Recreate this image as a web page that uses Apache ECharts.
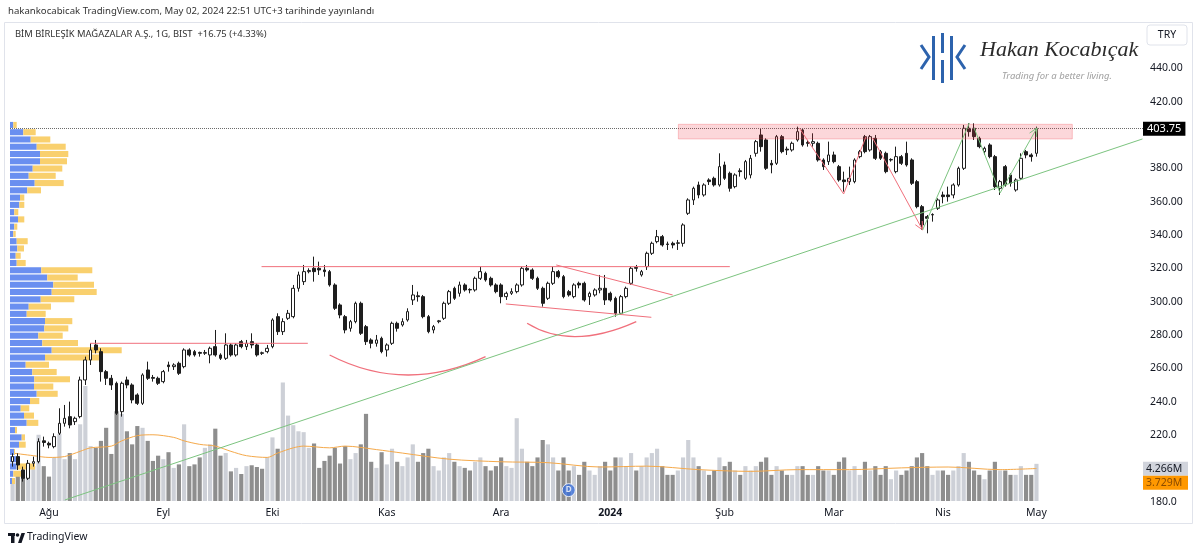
<!DOCTYPE html>
<html><head><meta charset="utf-8">
<script src="https://cdn.jsdelivr.net/npm/echarts@6/dist/echarts.min.js"></script>
<style>html,body{margin:0;padding:0;background:#fff}#c{width:1200px;height:553px}</style>
</head><body><div id="c"></div><script>
// ---------------- DATA ----------------
const START = [2023, 6, 21]; // first bar: 2023-07-21
const HOLIDAYS = ['2023-08-30','2024-01-01','2024-04-10','2024-04-11','2024-04-12','2024-04-23','2024-05-01'];
const N_SLOTS = 218; // 198 bars + empty right margin
const MONTHS_TR = ['Oca','Şub','Mar','Nis','May','Haz','Tem','Ağu','Eyl','Eki','Kas','Ara'];

const opens = [204,207,199,194,203,204,216.5,215,213,221,227,231,228,231,253,265,274,270,258,254,
251,234,253,250,244,239,259,254.5,254,252,262,261,263,261,271,270,269.5,269,268,273,
268,266,274,268,276,273,276,274,269.3,270,273,291,282,290,291,308,312,318,320,320,
319,318,310,298,291,284,288,299,285,277,275,278,271,275,287,286,289,301,303.5,303,
291,283,288,290,299,308,305,310,307.3,307,314,317,314,310,310,303,305,306,310,320,
319,314,308,302,311,318,315,306,303,311,311,303,304,307,308,305,302,293,303,311,
320.5,316,321,329,336,339,334.6,335,335,335,353,361,370,364,373,374,370,382,377,369,
378.5,374,376,389,400,397,383,383,399,391.5,391,397,403,395.5,395,395,385,384,388,381,
373,372,372,387,399,391,398,390,389,385,378,387,389,385,372,357,351,352,356,364,
364,364,370,380,404,404,398,390,394,387,368,381,376,367,374,390,388,389];
const closes = [207,202,194,203,204,216,215.5,214,219,227,230,226,230,253,265,271,271,258,254,250,
233,251,250,241,239,256,254,254,251,258,261,262,257,271,268,268,269,269.5,272,268,
266,274,268,274,273,275,274,268,269,272,289,282,288,293,308,316,318,318.7,318,319,
318,310,296,292,283,288,299,281,276,275,277,270,274,287,284,288,294,304,303,291,
282,285,288.5,299,306,302,310,307,307,314,318,313,310,306,303,305,306,310,320,319,
314,308,299,311,318,315,303,304,310,310,301,305,307,308,301,301,293,303,308,320,
320,318,329,335,339,334,334.3,334,335.3,346,361,368,364,370,372,370,381,374,368,376,
378,384,386,396,393,380,382,399,390,391,395,402,394,395,396,385,381,388,384,373,
372,374,385,390,390,399,386,386,378,385.3,387,383,382,371,357,346,350,352.3,361,363,
363,370,380,404,402,399,393,392,387,369,372,370,371,373,386,388,387,403.75];
const lows = [201,199,192,193,201,203,213,212,212,220,225,224,226,230,250,262,269,252,250,247,
232,231,248,239,238,238,253,252,250,251,258,259,256,260,267,267,267,268,263,267,
265,265,267,267,272,271,272,267,268,269,272,280,280,289,290,306,310,317,312,316,
315,309,295,290,281,282,287,280,274,272,273,269,267,274,282,285,288,298,300,290,
281,281,287,289,298,301,303,306,305,306,313,312,309,305,299,301,304,305,309,318,
313,307,297,301,310,314,302,303,302,308,300,298,303,305,298,300,291,292,302,310,
318,315,319,328,335,333,331,332,331,333,352,358,362,363,370,369,369,373,366,368,
375,373,374,387,390,379,377,382,389,388,390,396,393,393,393,384,379,382,383,372,
366,370,371,386,389,390,385,385,377,384,377,382,381,370,356,343,341,348,355,359,
360,362,369,379,399,397,392,388,386,367,364,369,369,366,373,386,384,387];
const highs = [209,209,201,205,207,218,219,216,221,236,238,240,231,255,267,275,277,272,259,256,
252,252,255,251,245,257,264,256,255,259,264,263,264,272,272,271,270,271,273,283,
269,281,275,275,277,277,281,275,270,274,290,293,290,295,310,318,322,320,327,324,
322,319,311,299,292,289,300,300,286,278,280,279,275,288,288,290,296,310,306,304,
292,286,289,300,307,309,312,311,308,315,321,318,315,311,311,306,308,311,321,322,
320,315,309,312,321,319,316,307,311,312,312,306,308,316,316,306,303,304,309,321,
322,319,330,336,343,340,336,336,337,347,362,369,372,371,374,375,389,384,378,377,
380,385,388,397,404,398,385,400,400,393,396,405,404,397,401,396,386,396,390,382,
378,381,386,391,400,400,400,391,390,386,393,388,396,386,373,358,352,353,362,366,
369,371,381,406,407,407,399,393,395,388,373,382,377,374,389,391,389,405];
// volume in millions
const volumes = [2.0,3.1,2.7,3.8,4.0,7.6,4.0,2.8,5.0,7.7,4.8,5.5,4.8,8.8,13.2,6.3,6.1,6.9,8.4,5.4,
10.3,10.0,8.0,6.5,8.6,8.4,6.9,4.6,5.2,4.8,5.6,3.8,4.2,8.8,4.0,4.2,5.0,6.1,6.5,8.3,
5.2,5.5,3.4,3.8,3.1,4.0,4.1,3.9,3.7,5.0,7.3,6.0,13.6,9.8,8.7,8.0,7.9,6.1,6.6,3.8,
4.6,5.2,6.1,4.3,6.3,4.8,5.5,6.5,10.0,4.5,3.8,5.6,4.2,6.0,4.5,4.0,5.0,6.5,4.5,5.5,
6.0,4.0,3.5,5.0,5.5,4.5,4.0,3.8,3.5,4.5,5.0,4.0,3.5,4.0,5.0,4.0,3.8,9.5,6.0,4.5,
4.0,5.0,7.0,6.5,5.0,3.5,5.0,3.5,4.0,3.0,4.5,3.5,3.0,4.0,4.5,3.5,5.0,5.0,4.0,5.5,
3.5,4.0,5.0,5.5,6.0,4.0,3.0,3.0,3.5,5.0,7.0,5.0,4.0,3.5,3.0,3.5,5.0,4.0,4.5,3.5,
3.0,4.0,3.5,4.0,4.5,5.0,3.0,4.0,3.5,3.0,3.0,4.0,4.0,3.0,3.0,4.0,3.5,3.5,3.0,4.5,
5.0,3.5,4.0,3.0,4.5,3.5,4.0,3.0,4.0,2.5,3.5,3.0,3.5,4.0,5.0,5.5,4.0,3.0,3.5,3.5,
3.0,3.5,4.0,5.5,4.5,3.5,3.0,2.5,3.5,4.5,3.5,3.5,3.0,3.0,4.0,3.0,3.0,4.266];
// volume moving average, read at points [barIndex, millions]
const volMa = [[0,5.5],[4,5.2],[7,5.0],[10,5.1],[13,5.7],[15,6.1],[19,6.3],[21,6.9],[24,7.5],[27,7.6],
[31,7.3],[33,6.9],[36,6.5],[39,6.3],[42,5.7],[45,5.2],[49,5.0],[51,5.5],[54,6.1],[56,6.3],[61,6.1],
[64,6.3],[70,5.9],[75,5.5],[84,4.8],[94,4.5],[103,4.4],[113,3.9],[122,4.0],[132,3.6],[142,3.4],
[151,3.6],[161,3.6],[171,3.8],[180,3.9],[190,3.6],[197,3.729]];
const dividendDate = '2023-12-20';
// visible-range volume profile, rows from top (price PROFILE_TOP) downward, relative units
const PROFILE_TOP = 408.2, PROFILE_ROW = 4.36;
const profileUp = [3.3,13.3,20.7,26.7,30,30,22.7,18.7,24.7,17.3,10,9.3,4.3,8,4.3,3.3,6.7,7.3,5.7,6.7,
31.3,37.3,43.3,41.7,30.7,18.7,16.7,35,34.3,28.3,32.3,41.7,35,15.7,22.3,24.3,24,26.7,20,10.7,
14,16.7,5,11.7,9,4,9,6.7,3.3,2];
const profileDown = [3.4,12.4,19.6,29,28.3,27,29.6,27,29,13.7,4.3,5,4,6.3,3,2.4,11,6.7,5,9,
51,30.4,40.7,45,33.6,22.3,19,27.3,24,24.4,35.7,70,55,23.3,24.4,35.7,19.3,21,9.3,8.6,
10,11.6,2,3.3,6.7,1,1,18.3,8.4,3];
// drawings in [barIndex, price]
const resistanceZone = [[128.1,397.6],[203.9,406.4]];
const redLines = [[[14.9,275],[56.8,275]],[[47.9,321],[138,321]],[[104.6,322],[127,304]],[[94.9,298.6],[122.9,290.6]],
  [[151.4,404],[159.9,364.6],[164.2,399]]];
const redArcs = [[[61,268],[75.8,256],[91,267]],[[99,287],[108.5,279],[120,288]]];
const redArrows = [[[165.5,398],[175.1,343]]];
const greenLines = [[[10.06,181],[217.4,397.6]],[[175.1,343],[184.1,407.2]],[[185,404.2],[190,365.2]]];
const greenArrows = [[[190,365.2],[197.1,404.2]]];

// ---------------- BUILD ----------------
function buildDates(n){
  const out=[]; const d=new Date(Date.UTC(START[0],START[1],START[2]));
  while(out.length<n){
    const s=d.toISOString().slice(0,10), w=d.getUTCDay();
    if(w!==0&&w!==6&&HOLIDAYS.indexOf(s)<0) out.push(s);
    d.setUTCDate(d.getUTCDate()+1);
  }
  return out;
}
const cats = buildDates(N_SLOTS);
const NB = opens.length;
const lastPrice = closes[NB-1];
const lastVol = volumes[NB-1];
const lastMa = volMa[volMa.length-1][1];

const RED = '#f0707c', GREEN = '#7cc47f';
const UPV = '#cdd0d7', DNV = '#8e8e8e';
const FONT = 'Noto Sans';

const drawings = [];
drawings.push({kind:'rect', pts: resistanceZone});
redLines.forEach(p=>drawings.push({kind:'line', color:RED, pts:p}));
redArcs.forEach(p=>drawings.push({kind:'arc', color:RED, pts:p}));
redArrows.forEach(p=>drawings.push({kind:'arrow', color:RED, pts:p}));
greenLines.forEach(p=>drawings.push({kind:'line', color:GREEN, pts:p}));
greenArrows.forEach(p=>drawings.push({kind:'arrow', color:GREEN, pts:p}));

const chart = echarts.init(document.getElementById('c'), null, {renderer:'canvas'});
const L = 10, R = 57;

function isMonthStart(idx){ return idx>0 && idx<NB && cats[idx].slice(0,7)!==cats[idx-1].slice(0,7); }

const option = {
  animation:false,
  backgroundColor:'#ffffff',
  grid:[
    {left:L, right:R, top:1.63, bottom:18.03},
    {left:L, right:R, top:379, bottom:52}
  ],
  xAxis:[
    {type:'category', gridIndex:0, data:cats, show:false, boundaryGap:true},
    {type:'value', gridIndex:0, min:-0.5, max:N_SLOTS-0.5, show:false},
    {type:'value', gridIndex:0, min:0, max:1133, show:false},
    {type:'category', gridIndex:1, data:cats, boundaryGap:true,
      axisLine:{show:false}, axisTick:{show:false}, splitLine:{show:false},
      axisLabel:{interval:(idx)=>isMonthStart(idx), margin:7, fontFamily:FONT, fontSize:10.5, color:'#131722',
        formatter:(v)=>{const m=+v.slice(5,7); return m===1? '{y|'+v.slice(0,4)+'}' : MONTHS_TR[m-1];},
        rich:{y:{fontWeight:'bold', fontFamily:FONT, fontSize:10.5, color:'#131722'}}}},
    {type:'value', gridIndex:1, min:-0.5, max:N_SLOTS-0.5, show:false}
  ],
  yAxis:[
    {type:'value', gridIndex:0, min:160, max:480, interval:20, position:'right',
      axisLine:{show:false}, axisTick:{show:false}, splitLine:{show:false},
      axisLabel:{margin:7, fontFamily:FONT, fontSize:10.5, color:'#131722', align:'left',
        formatter:(v)=>{ if(v>440||v<180||v===400||v===200) return ''; return v>=260? v.toFixed(2): v.toFixed(1);} }},
    {type:'value', gridIndex:1, min:0, max:14, show:false}
  ],
  series:[
    {type:'bar', name:'Volume', xAxisIndex:3, yAxisIndex:1, barWidth:'80%', z:1, silent:true,
      data: volumes.map((v,i)=>({value:v, itemStyle:{color: closes[i]>=opens[i]? UPV : DNV}}))},
    {type:'line', name:'Vol MA', xAxisIndex:4, yAxisIndex:1, data:volMa, smooth:0.3, symbol:'none', z:2,
      lineStyle:{color:'#f5a94a', width:1}},
    {type:'scatter', xAxisIndex:3, yAxisIndex:1, data:[[dividendDate, 1.25]], symbolSize:13, z:6,
      itemStyle:{color:'#3b6fd8', borderColor:'#ffffff', borderWidth:1},
      label:{show:true, formatter:'D', color:'#fff', fontSize:8, fontWeight:'bold', fontFamily:FONT, position:'inside'}},
    {type:'custom', name:'Profile', xAxisIndex:2, yAxisIndex:0, z:3, silent:true,
      data: profileUp.map((u,k)=>[u, PROFILE_TOP-(k+0.5)*PROFILE_ROW]),
      renderItem:(params, api)=>{
        const k=params.dataIndex; const top=PROFILE_TOP-k*PROFILE_ROW, bot=top-PROFILE_ROW;
        const p0=api.coord([0,top]), p1=api.coord([0,bot]);
        const xb=api.coord([profileUp[k],top])[0], xt=api.coord([profileUp[k]+profileDown[k],top])[0];
        const h=p1[1]-p0[1];
        return {type:'group', children:[
          {type:'rect', shape:{x:p0[0], y:p0[1]+0.6, width:xb-p0[0], height:h-1.2}, style:{fill:'#6a8ff0'}},
          {type:'rect', shape:{x:xb, y:p0[1]+0.6, width:xt-xb, height:h-1.2}, style:{fill:'#f9d06e'}}
        ]};
      }},
    {type:'candlestick', name:'BIMAS', xAxisIndex:0, yAxisIndex:0, z:4, barWidth:'62%',
      data: opens.map((o,i)=>[o, closes[i], lows[i], highs[i]]),
      itemStyle:{color:'#ffffff', color0:'#1e1e1e', borderColor:'#1e1e1e', borderColor0:'#1e1e1e', borderWidth:1},
      markLine:{silent:true, symbol:'none', data:[{yAxis:lastPrice}],
        lineStyle:{color:'#6b6b6b', type:'dotted', width:1},
        label:{show:true, position:'end', distance:0, formatter:lastPrice.toFixed(2), backgroundColor:'#000000',
          color:'#ffffff', padding:[2,4,1,4], fontFamily:FONT, fontSize:11}}},
    {type:'custom', name:'Drawings', xAxisIndex:1, yAxisIndex:0, z:5, silent:true,
      data: drawings.map(d=>d.pts[0]),
      renderItem:(params, api)=>{
        const d=drawings[params.dataIndex];
        const px=d.pts.map(p=>api.coord(p));
        if(d.kind==='rect'){
          const x=Math.min(px[0][0],px[1][0]), y=Math.min(px[0][1],px[1][1]);
          return {type:'rect', shape:{x:x,y:y,width:Math.abs(px[1][0]-px[0][0]),height:Math.abs(px[1][1]-px[0][1])},
            style:{fill:'rgba(242,54,69,0.2)', stroke:'rgba(242,54,69,0.25)', lineWidth:1}};
        }
        if(d.kind==='arc'){
          const [a,m,b]=px; const cx=2*m[0]-(a[0]+b[0])/2, cy=2*m[1]-(a[1]+b[1])/2;
          return {type:'bezierCurve', shape:{x1:a[0],y1:a[1],x2:b[0],y2:b[1],cpx1:cx,cpy1:cy},
            style:{stroke:d.color, fill:null, lineWidth:1.3}};
        }
        const children=[{type:'polyline', shape:{points:px}, style:{stroke:d.color, fill:null, lineWidth:1}}];
        if(d.kind==='arrow'){
          const e=px[px.length-1], s=px[px.length-2];
          const ang=Math.atan2(e[1]-s[1], e[0]-s[0]); const len=9, spread=0.45;
          children.push({type:'polyline', shape:{points:[
            [e[0]-len*Math.cos(ang-spread), e[1]-len*Math.sin(ang-spread)], e,
            [e[0]-len*Math.cos(ang+spread), e[1]-len*Math.sin(ang+spread)]]},
            style:{stroke:d.color, fill:null, lineWidth:1}});
        }
        return {type:'group', children};
      }}
  ]
};
chart.setOption(option);

// ---------------- DECORATION (positions from axes where tied to data) ----------------
const yVol = chart.convertToPixel({yAxisIndex:1}, lastVol);
const volBoxTop = yVol - 2;
const axX = 1200 - R;
const graphics = [
  {type:'rect', shape:{x:4.5, y:22.5, width:1188, height:501}, style:{fill:null, stroke:'#e0e3eb', lineWidth:1}, z:0, silent:true},
  {type:'text', left:8, top:6, style:{text:'hakankocabicak TradingView.com, May 02, 2024 22:51 UTC+3 tarihinde yayınlandı', fontFamily:FONT, fontSize:9.6, fill:'#333333'}},
  {type:'text', left:15, top:30, style:{text:'BİM BİRLEŞİK MAĞAZALAR A.Ş., 1G, BIST  +16.75 (+4.33%)', fontFamily:FONT, fontSize:9.4, fill:'#333333'}},
  // TRY box
  {type:'rect', shape:{x:axX+4, y:25, width:40, height:20, r:3}, style:{fill:'#ffffff', stroke:'#e0e3eb', lineWidth:1}, z:10},
  {type:'text', x:axX+24, y:35, style:{text:'TRY', fontFamily:FONT, fontSize:10.5, fill:'#131722', align:'center', verticalAlign:'middle'}, z:11},
  // logo icon
  {type:'polyline', shape:{points:[[921,45],[929,57],[921,69]]}, style:{stroke:'#2d63ad', lineWidth:3, fill:null}, z:10},
  {type:'rect', shape:{x:932, y:36, width:3, height:44}, style:{fill:'#2d63ad'}, z:10},
  {type:'rect', shape:{x:941, y:33, width:3, height:20}, style:{fill:'#2d63ad'}, z:10},
  {type:'rect', shape:{x:941, y:60, width:3, height:23}, style:{fill:'#2d63ad'}, z:10},
  {type:'rect', shape:{x:950, y:36, width:3, height:44}, style:{fill:'#2d63ad'}, z:10},
  {type:'polyline', shape:{points:[[965,45],[957,57],[965,69]]}, style:{stroke:'#2d63ad', lineWidth:3, fill:null}, z:10},
  {type:'text', left:980, top:39, style:{text:'Hakan Kocabıçak', fontFamily:'Liberation Serif', fontStyle:'italic', fontSize:22, fill:'#2b2b2b'}, z:10},
  {type:'text', left:1002, top:71, style:{text:'Trading for a better living.', fontFamily:FONT, fontStyle:'italic', fontSize:9.5, fill:'#a0a0a0'}, z:10},
  // volume labels
  {type:'rect', shape:{x:axX, y:volBoxTop, width:45, height:14}, style:{fill:'#d1d4dc'}, z:10},
  {type:'text', x:axX+3, y:volBoxTop+7, style:{text:lastVol.toFixed(3)+'M', fontFamily:FONT, fontSize:10.5, fill:'#131722', verticalAlign:'middle'}, z:11},
  {type:'rect', shape:{x:axX, y:volBoxTop+14, width:45, height:14}, style:{fill:'#ff9800'}, z:10},
  {type:'text', x:axX+3, y:volBoxTop+21, style:{text:lastMa.toFixed(3)+'M', fontFamily:FONT, fontSize:10.5, fill:'#8a4b00', verticalAlign:'middle'}, z:11},
  // footer
  {type:'rect', shape:{x:8, y:533, width:7, height:3}, style:{fill:'#131722'}},
  {type:'rect', shape:{x:11, y:533, width:3.5, height:10}, style:{fill:'#131722'}},
  {type:'circle', shape:{cx:17.5, cy:535, r:1.8}, style:{fill:'#131722'}},
  {type:'polygon', shape:{points:[[18,543],[21.5,533],[25,533],[21.5,543]]}, style:{fill:'#131722'}},
  {type:'text', left:27, top:532, style:{text:'TradingView', fontFamily:FONT, fontSize:10.5, fill:'#131722'}}
];
chart.setOption({graphic: graphics});
</script></body></html>
